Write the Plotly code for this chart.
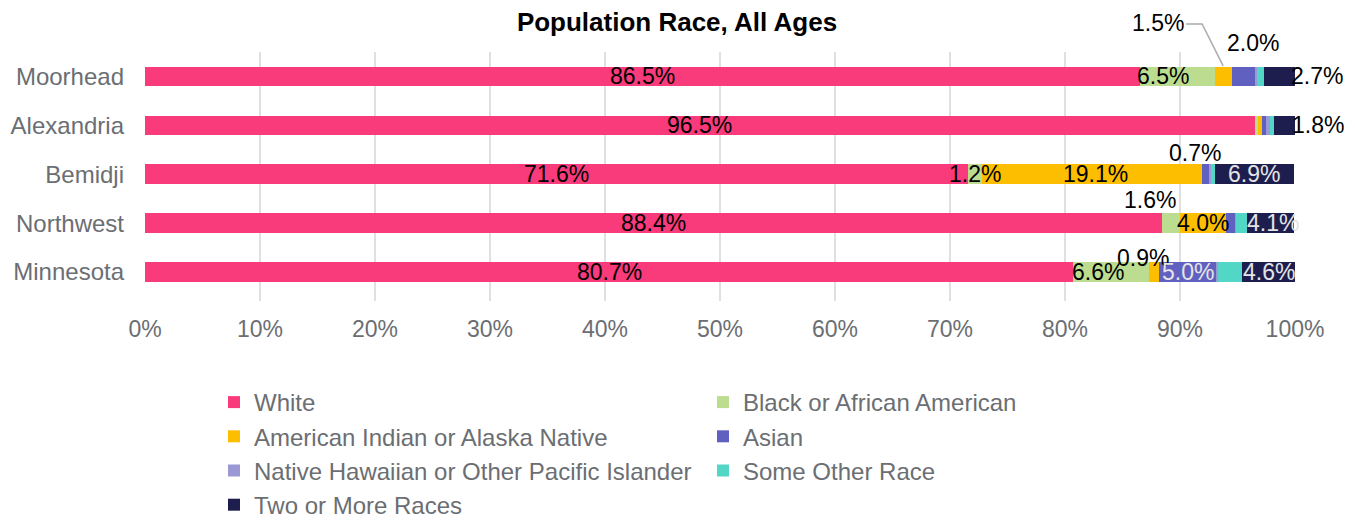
import numpy as np
import plotly.graph_objects as go

regions = ["Moorhead", "Alexandria", "Bemidji", "Northwest", "Minnesota"]
races = ["White", "Black or African American", "American Indian or Alaska Native",
         "Asian", "Native Hawaiian or Other Pacific Islander", "Some Other Race",
         "Two or More Races"]

white = [86.5, 96.5, 71.6, 88.4, 80.7]
black = [6.5, 0.3, 1.2, 1.6, 6.6]
aian = [1.5, 0.3, 19.1, 4.0, 0.9]
asian = [2.0, 0.4, 0.7, 0.8, 5.0]
nhpi = [0.2, 0.3, 0.1, 0.1, 0.1]
other = [0.6, 0.4, 0.3, 0.9, 2.1]
two_more = [2.7, 1.8, 6.9, 4.1, 4.6]

series = [white, black, aian, asian, nhpi, other, two_more]
colors = ["#F93A7B", "#BCDD90", "#FDBE00", "#6060C0", "#9B98D6", "#52D7C7", "#1E1E4E"]

# label style: (region index, race index) -> (xshift px, yshift px, text colour)
DARK = "#000000"
LIGHT = "#E4E4E4"
LEADER_UP = 53
label_style = {
    (0, 0): (0, 0, DARK), (0, 1): (-14, 0, DARK), (0, 2): (-65, LEADER_UP, DARK),
    (0, 3): (10, 33, DARK), (0, 6): (38, 0, DARK),
    (1, 0): (0, 0, DARK), (1, 6): (33, 0, DARK),
    (2, 0): (0, 0, DARK), (2, 1): (0, 0, DARK), (2, 2): (3, 0, DARK),
    (2, 3): (-11, 21, DARK), (2, 6): (0, 0, LIGHT),
    (3, 0): (0, 0, DARK), (3, 1): (-21, 23, DARK), (3, 2): (0, 0, DARK),
    (3, 6): (3, 0, LIGHT),
    (4, 0): (0, 0, DARK), (4, 1): (-13, 0, DARK), (4, 2): (-11, 14, DARK),
    (4, 3): (0, 0, LIGHT), (4, 6): (0, 0, LIGHT),
}

FONT = "Liberation Sans, Arial, sans-serif"
XMAX = 100.0

# page body has an 8px default margin; size the figure so it fits the window
PAGE_PAD = 8
FIG_W, FIG_H = 1355 - PAGE_PAD, 522 - PAGE_PAD
M_L, M_T = 145 - PAGE_PAD, 52 - PAGE_PAD
PLOT_W, PLOT_H = 1150, 249
M_R = FIG_W - M_L - PLOT_W
M_B = FIG_H - M_T - PLOT_H

fig = go.Figure()
for name, vals, col in zip(races, series, colors):
    fig.add_trace(go.Bar(
        y=regions, x=vals, name=name, orientation="h",
        marker=dict(color=col, line=dict(width=0)),
        hoverinfo="x+name",
    ))

vals_arr = np.array(series)  # races x regions
cum = np.cumsum(vals_arr, axis=0)
start = cum - vals_arr
mid = start + vals_arr / 2

annotations = []
for (ri, si), (dx, dy, tc) in label_style.items():
    annotations.append(dict(
        x=mid[si, ri], y=regions[ri], xref="x", yref="y",
        text=f"{vals_arr[si, ri]:.1f}%", showarrow=False,
        xshift=dx, yshift=dy, font=dict(family=FONT, size=23, color=tc),
        xanchor="center", yanchor="middle",
    ))

# leader line for the small Moorhead AIAN label (paper-referenced so it is not clipped)
n_cat = len(regions)
moorhead_paper_y = 1 - 0.5 / n_cat
shapes = [dict(
    type="path", xref="paper", yref="paper",
    xsizemode="pixel", ysizemode="pixel",
    xanchor=mid[2, 0] / XMAX, yanchor=moorhead_paper_y,
    path=f"M -37 {LEADER_UP} L -21 {LEADER_UP} L 0 11",
    line=dict(color="#AAAAAA", width=1.5),
)]

plot_bottom = M_T + PLOT_H  # figure px
legend_top = 380 - PAGE_PAD
legend_left = 214 - PAGE_PAD

fig.update_layout(
    width=FIG_W, height=FIG_H,
    margin=dict(l=M_L, r=M_R, t=M_T, b=M_B, autoexpand=False),
    barmode="stack", bargap=0.6,
    plot_bgcolor="white", paper_bgcolor="white",
    title=dict(text="Population Race, All Ages", x=(677 - PAGE_PAD) / FIG_W,
               xref="container", xanchor="center",
               y=1 - 14 / FIG_H, yref="container", yanchor="middle",
               font=dict(family=FONT, size=26, color="#000000", weight="bold")),
    xaxis=dict(range=[0, XMAX], dtick=10, ticksuffix="%", showgrid=True,
               gridcolor="#E0E0E0", gridwidth=1.5, zeroline=False,
               tickfont=dict(family=FONT, size=23, color="#6B6E72"),
               fixedrange=True, ticks="", ticklabelstandoff=12, automargin=False),
    yaxis=dict(autorange="reversed", showgrid=False, zeroline=False,
               tickfont=dict(family=FONT, size=24, color="#6B6E72"),
               ticks="", ticklabelstandoff=20, automargin=False),
    legend=dict(orientation="h", x=(legend_left - M_L) / PLOT_W, xanchor="left",
                y=-(legend_top - plot_bottom) / PLOT_H, yanchor="top",
                entrywidth=444, entrywidthmode="pixels",
                font=dict(family=FONT, size=24, color="#6B6E72"),
                itemwidth=30, traceorder="normal"),
    annotations=annotations,
    shapes=shapes,
    showlegend=True,
)

fig.write_html("out.html")
